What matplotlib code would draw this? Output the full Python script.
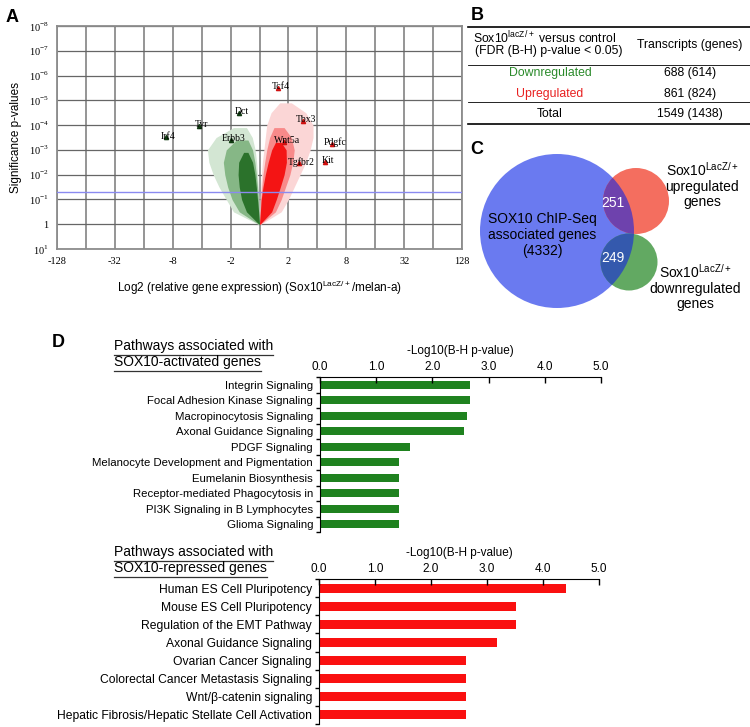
import matplotlib
matplotlib.use('Agg')
import matplotlib.pyplot as plt
import numpy as np
from matplotlib.patches import Circle
from matplotlib.lines import Line2D

W, H = 750, 727

# ---- Panel A: volcano plot (x = log2 fold change, y = -log10 p) ----
x_ticks = [-7, -5, -3, -1, 1, 3, 5, 7]
x_tick_labels = ['-128', '-32', '-8', '-2', '2', '8', '32', '128']
y_ticks = [-1, 0, 1, 2, 3, 4, 5, 6, 7, 8]
y_tick_labels = ['10$^{\\mathregular{1}}$', '1', '10$^{\\mathregular{-1}}$', '10$^{\\mathregular{-2}}$',
                 '10$^{\\mathregular{-3}}$', '10$^{\\mathregular{-4}}$', '10$^{\\mathregular{-5}}$',
                 '10$^{\\mathregular{-6}}$', '10$^{\\mathregular{-7}}$', '10$^{\\mathregular{-8}}$']
fdr_line = 1.3

# outlines of the point clouds (sparse, medium, dense)
green_outer_y = [0, 0.5, 1.0, 1.5, 2.0, 2.5, 3.0, 3.5, 3.9]
green_outer_l = [-0.05, -0.9, -1.15, -1.4, -1.6, -1.75, -1.8, -1.5, -0.9]
green_outer_r = [0, -0.01, -0.02, -0.04, -0.07, -0.1, -0.15, -0.25, -0.45]
green_mid_y = [0, 0.5, 1.0, 1.5, 2.0, 2.5, 3.0, 3.4]
green_mid_l = [-0.03, -0.7, -0.95, -1.1, -1.2, -1.25, -1.15, -0.8]
green_mid_r = [0, -0.02, -0.04, -0.07, -0.11, -0.16, -0.24, -0.4]
green_core_y = [0, 0.5, 1.0, 1.5, 2.0, 2.5, 2.9]
green_core_l = [-0.02, -0.45, -0.62, -0.7, -0.74, -0.72, -0.55]
green_core_r = [0, -0.03, -0.07, -0.11, -0.16, -0.24, -0.4]
red_outer_y = [0, 0.5, 1.0, 1.5, 2.0, 2.5, 3.0, 3.5, 4.0, 4.5, 4.9]
red_outer_l = [0, 0.01, 0.02, 0.04, 0.07, 0.1, 0.15, 0.2, 0.25, 0.4, 0.7]
red_outer_r = [0.05, 0.75, 1.0, 1.2, 1.4, 1.6, 1.75, 1.85, 1.85, 1.6, 1.1]
red_mid_y = [0, 0.5, 1.0, 1.5, 2.0, 2.5, 3.0, 3.5, 3.9]
red_mid_l = [0, 0.02, 0.04, 0.08, 0.12, 0.18, 0.25, 0.35, 0.5]
red_mid_r = [0.03, 0.55, 0.75, 0.9, 1.05, 1.15, 1.2, 1.1, 0.85]
red_core_y = [0, 0.5, 1.0, 1.5, 2.0, 2.5, 3.0, 3.3]
red_core_l = [0, 0.03, 0.06, 0.12, 0.2, 0.3, 0.42, 0.55]
red_core_r = [0.02, 0.42, 0.58, 0.72, 0.85, 0.93, 0.92, 0.75]

gene_names = ['Irf4', 'Tyr', 'Dct', 'Erbb3', 'Tcf4', 'Tbx3', 'Wnt5a', 'Pdgfc', 'Tgfbr2', 'Kit']
gene_x = [-3.24, -2.09, -0.72, -0.98, 0.65, 1.5, 0.84, 2.51, 1.36, 2.28]
gene_y = [3.5, 3.97, 4.48, 3.4, 5.51, 4.17, 3.33, 3.24, 2.46, 2.5]
gene_up = [False, False, False, False, True, True, True, True, True, True]

# ---- Panel B: table ----
table_rows = ['Downregulated', 'Upregulated']
table_vals = ['688 (614)', '861 (824)']
table_total = '1549 (1438)'

# ---- Panel C: venn counts ----
chip_total = 4332
overlap_up = 251
overlap_down = 249

# ---- Panel D: pathways ----
act_names = ['Integrin Signaling', 'Focal Adhesion Kinase Signaling', 'Macropinocytosis Signaling',
             'Axonal Guidance Signaling', 'PDGF Signaling', 'Melanocyte Development and Pigmentation',
             'Eumelanin Biosynthesis', 'Receptor-mediated Phagocytosis in', 'PI3K Signaling in B Lymphocytes',
             'Glioma Signaling']
act_vals = [2.67, 2.67, 2.62, 2.56, 1.60, 1.41, 1.41, 1.41, 1.41, 1.41]
rep_names = ['Human ES Cell Pluripotency', 'Mouse ES Cell Pluripotency', 'Regulation of the EMT Pathway',
             'Axonal Guidance Signaling', 'Ovarian Cancer Signaling', 'Colorectal Cancer Metastasis Signaling',
             'Wnt/\u03b2-catenin signaling', 'Hepatic Fibrosis/Hepatic Stellate Cell Activation']
rep_vals = [4.41, 3.52, 3.52, 3.17, 2.63, 2.63, 2.63, 2.63]


def px_box(l, t, r, b):
    return [l / W, 1 - b / H, (r - l) / W, (b - t) / H]


def fx(x):
    return x / W


def fy(y):
    return 1 - y / H


sans = ['Liberation Sans', 'DejaVu Sans']
serif = ['Liberation Serif', 'DejaVu Serif']
plt.rcParams['font.family'] = sans
plt.rcParams['axes.unicode_minus'] = False

fig = plt.figure(figsize=(W / 100, H / 100), dpi=100)

# ================= A =================
ax = fig.add_axes(px_box(57, 26, 462, 249))
ax.set_xlim(-7, 7)
ax.set_ylim(-1, 8)
for v in range(-7, 8):
    ax.axvline(v, color='#8c8c8c', lw=1.3, zorder=1)
for v in range(-1, 9):
    ax.axhline(v, color='#666666', lw=0.9, zorder=1)
for s in ax.spines.values():
    s.set_color('#8c8c8c')
    s.set_linewidth(1.3)
clouds = [
    (green_outer_y, green_outer_l, green_outer_r, '#d3e6d3'),
    (green_mid_y, green_mid_l, green_mid_r, '#86b786'),
    (green_core_y, green_core_l, green_core_r, '#2b722b'),
    (red_outer_y, red_outer_l, red_outer_r, '#fbd6d6'),
    (red_mid_y, red_mid_l, red_mid_r, '#f88a8a'),
    (red_core_y, red_core_l, red_core_r, '#f41414'),
]
for k, (cy, cl, cr, col) in enumerate(clouds):
    ax.fill_betweenx(cy, cl, cr, color=col, lw=0, zorder=2 + k % 3)
ax.axhline(fdr_line, color='#8a8af0', lw=1.0, zorder=5)
for name, gx, gy, up in zip(gene_names, gene_x, gene_y, gene_up):
    ax.plot(gx, gy, marker='^', ms=3, color='#d01010' if up else '#103a10', zorder=6)
    ax.annotate(name, (gx, gy), xytext=(2, 1), textcoords='offset points', ha='center', va='center',
                fontsize=7, family=serif, zorder=7)
ax.set_xticks(x_ticks)
ax.set_xticklabels(x_tick_labels, family=serif, fontsize=7.5)
ax.set_yticks(y_ticks)
ax.set_yticklabels(y_tick_labels, family=serif, fontsize=7.5)
ax.tick_params(length=0, pad=6)
ax.set_ylabel('Significance p-values', fontsize=8.5, labelpad=5)
ax.set_xlabel('Log2 (relative gene expression) (Sox10$^{\\mathregular{LacZ/+}}$/melan-a)', fontsize=8.5,
              labelpad=9)

# ================= B =================
axb = fig.add_axes(px_box(460, 0, 750, 130))
axb.set_xlim(460, 750)
axb.set_ylim(130, 0)
axb.axis('off')
axb.plot([468, 750], [26.5, 26.5], color='black', lw=1.2)
axb.plot([468, 750], [65, 65], color='black', lw=0.6)
axb.plot([468, 750], [101.5, 101.5], color='black', lw=0.6)
axb.plot([468, 750], [124, 124], color='black', lw=1.2)
fs_b = 8.8
axb.text(545, 38, 'Sox10$^{\\mathregular{lacZ/+}}$ versus control', ha='center', va='center', fontsize=fs_b)
axb.text(549, 51, '(FDR (B-H) p-value < 0.05)', ha='center', va='center', fontsize=fs_b)
axb.text(690, 45, 'Transcripts (genes)', ha='center', va='center', fontsize=fs_b)
for i, (lab, val, col) in enumerate(zip(table_rows, table_vals, ['#2a8a2a', '#e82020'])):
    yy = 73 + i * 21.5
    axb.text(550, yy, lab, ha='center', va='center', fontsize=fs_b, color=col)
    axb.text(690, yy, val, ha='center', va='center', fontsize=fs_b)
axb.text(550, 114, 'Total', ha='center', va='center', fontsize=fs_b)
axb.text(690, 114, table_total, ha='center', va='center', fontsize=fs_b)

# ================= C =================
axc = fig.add_axes(px_box(460, 130, 750, 330))
axc.set_xlim(460, 750)
axc.set_ylim(330, 130)
axc.axis('off')
blue = Circle((557, 231), 77, color='#6a7af0', lw=0)
red = Circle((636, 201), 33, color='#f46e5f', lw=0)
green = Circle((629, 262), 28.5, color='#62a962', lw=0)
for p in (blue, red, green):
    axc.add_patch(p)
red_in = Circle((636, 201), 33, color='#6e42ad', lw=0)
green_in = Circle((629, 262), 28.5, color='#3459ad', lw=0)
for p in (red_in, green_in):
    axc.add_patch(p)
    p.set_clip_path(blue)
axc.text(542, 235, 'SOX10 ChIP-Seq\nassociated genes\n(%d)' % chip_total, ha='center', va='center',
         fontsize=10, linespacing=1.15)
axc.text(613, 203, str(overlap_up), ha='center', va='center', fontsize=10, color='white')
axc.text(613, 258, str(overlap_down), ha='center', va='center', fontsize=10, color='white')
axc.text(702, 185, 'Sox10$^{\\mathregular{LacZ/+}}$\nupregulated\ngenes', ha='center', va='center',
         fontsize=10, linespacing=1.1)
axc.text(695, 287, 'Sox10$^{\\mathregular{LacZ/+}}$\ndownregulated\ngenes', ha='center', va='center',
         fontsize=10, linespacing=1.1)

# ================= D =================
def pathway_axes(box, names, vals, color, fs):
    a = fig.add_axes(px_box(*box))
    n = len(names)
    a.barh(range(n), vals, height=0.5, color=color)
    a.set_xlim(0, 5)
    a.set_ylim(n - 0.5, -0.5)
    a.xaxis.tick_top()
    a.xaxis.set_label_position('top')
    a.set_xticks(np.arange(0, 5.01, 1.0))
    a.set_xticklabels(['%.1f' % v for v in np.arange(0, 5.01, 1.0)], fontsize=8.5)
    a.tick_params(axis='x', direction='in', length=4, pad=3, width=1)
    a.set_xlabel('-Log10(B-H p-value)', fontsize=8.5, labelpad=5)
    a.set_yticks(range(n))
    a.set_yticklabels(names, fontsize=fs)
    a.set_yticks(np.arange(-0.5, n, 1.0), minor=True)
    a.tick_params(axis='y', which='major', length=0, pad=5)
    a.tick_params(axis='y', which='minor', length=3, direction='out', width=1)
    a.spines['right'].set_visible(False)
    a.spines['bottom'].set_visible(False)
    return a

pathway_axes((320, 377, 601, 532), act_names, act_vals, '#1f821f', 8.2)
pathway_axes((319, 579, 599, 724), rep_names, rep_vals, '#fa1010', 8.7)

titles = [
    (114, 346, 'Pathways associated with'),
    (114, 362, 'SOX10-activated genes'),
    (114, 552, 'Pathways associated with'),
    (114, 568, 'SOX10-repressed genes'),
]
title_texts = [fig.text(fx(x), fy(y), s, ha='left', va='center', fontsize=10)
               for x, y, s in titles]

# panel letters
for x, y, s in [(12, 17, 'A'), (477, 16, 'B'), (477, 150, 'C'), (58, 343, 'D')]:
    fig.text(fx(x), fy(y), s, ha='center', va='center', fontsize=13, fontweight='bold')

# underline the pathway titles
fig.canvas.draw()
r = fig.canvas.get_renderer()
for t in title_texts:
    bb = t.get_window_extent(r).transformed(fig.transFigure.inverted())
    fig.add_artist(Line2D([bb.x0, bb.x1], [bb.y0 - 1.5 / H, bb.y0 - 1.5 / H], color='#333333', lw=0.9,
                          transform=fig.transFigure))

fig.savefig('out.png', dpi=100)
